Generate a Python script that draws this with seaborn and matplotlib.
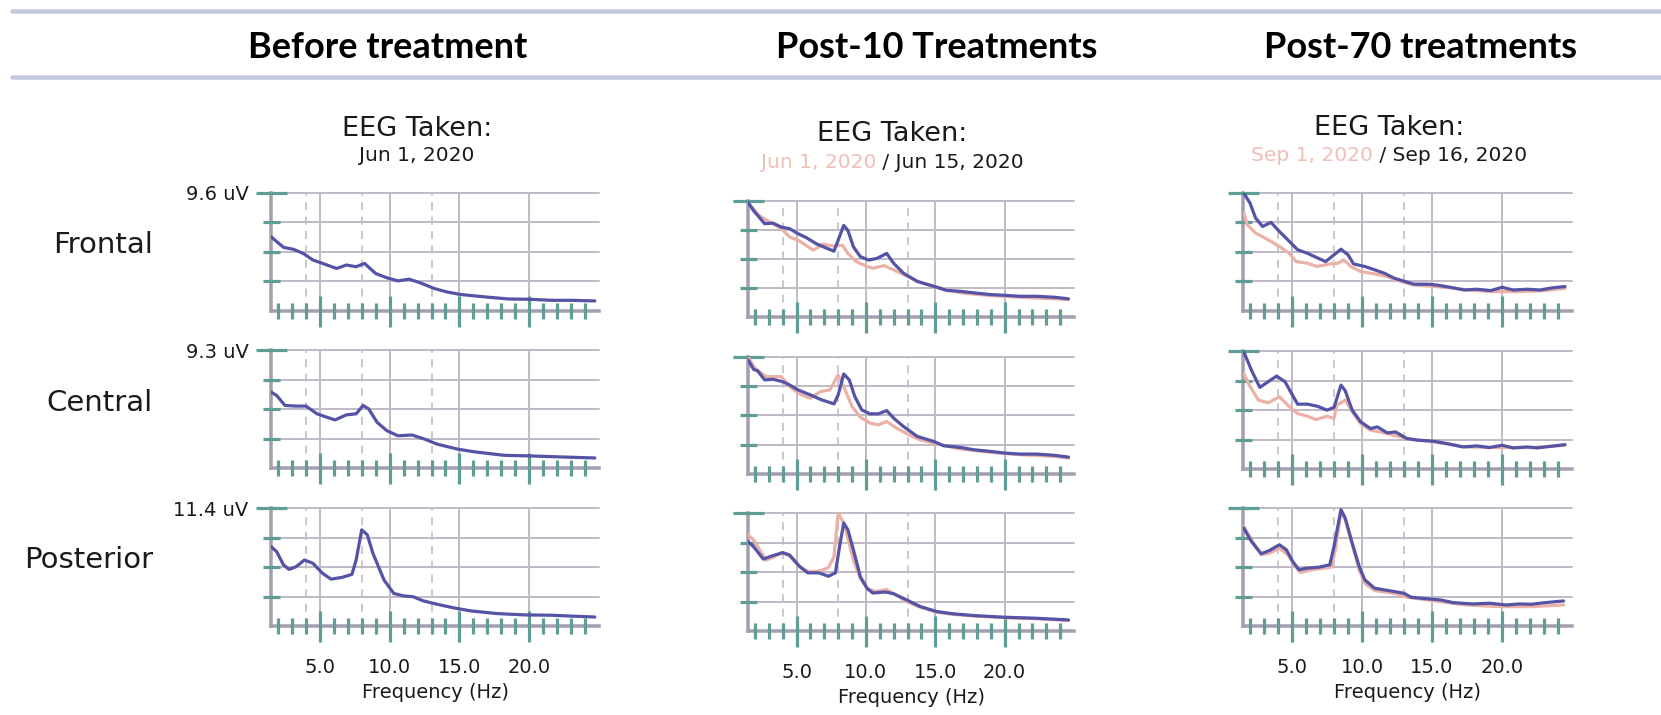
import matplotlib
matplotlib.use("Agg")
import matplotlib.pyplot as plt
import seaborn as sns
from matplotlib.lines import Line2D

# ---------------------------------------------------------------- data
ROWS = ["Frontal", "Central", "Posterior"]
ROW_MAX_UV = [9.6, 9.3, 11.4]
HEADERS = ["Before treatment", "Post-10 Treatments", "Post-70 treatments"]
DATES_PRE = [None, "Jun 1, 2020", "Sep 1, 2020"]
DATES_POST = ["Jun 1, 2020", "Jun 15, 2020", "Sep 16, 2020"]
MAJOR_HZ = [5, 10, 15, 20]
BAND_EDGES_HZ = [4, 8, 13]

# Before treatment (single recording)
before_frontal_hz = [1.5, 1.9, 2.4, 3.1, 3.8, 4.5, 5.2, 6.2, 6.9, 7.6, 8.2, 9.0, 9.8, 10.6, 11.4, 12.2, 13.2, 14.1, 15.1, 16.8, 18.5, 20.1, 21.6, 23.0, 24.7]
before_frontal_uv = [6.05, 5.65, 5.18, 5.02, 4.69, 4.15, 3.87, 3.46, 3.74, 3.6, 3.87, 3.05, 2.7, 2.45, 2.59, 2.29, 1.83, 1.55, 1.34, 1.15, 0.98, 0.95, 0.87, 0.87, 0.82]
before_central_hz = [1.5, 1.9, 2.5, 3.3, 4.0, 4.8, 5.5, 6.1, 6.9, 7.6, 8.1, 8.5, 9.1, 9.8, 10.6, 11.6, 12.5, 13.4, 14.9, 16.1, 18.2, 20.1, 22.3, 24.7]
before_central_uv = [5.99, 5.72, 4.93, 4.88, 4.88, 4.27, 4.0, 3.79, 4.19, 4.27, 4.93, 4.66, 3.6, 2.94, 2.54, 2.6, 2.28, 1.88, 1.48, 1.27, 1.0, 0.95, 0.87, 0.79]
before_posterior_hz = [1.5, 1.9, 2.4, 2.8, 3.3, 3.9, 4.5, 5.2, 5.8, 6.6, 7.3, 7.6, 8.0, 8.4, 8.8, 9.6, 10.3, 11.0, 11.7, 12.4, 13.4, 14.6, 15.8, 17.7, 19.7, 21.6, 23.3, 24.7]
before_posterior_uv = [7.68, 7.19, 5.89, 5.47, 5.73, 6.38, 6.06, 5.08, 4.53, 4.7, 4.99, 6.38, 9.29, 8.81, 7.03, 4.44, 3.14, 2.91, 2.82, 2.43, 2.1, 1.75, 1.46, 1.2, 1.07, 1.04, 0.94, 0.87]

# Post-10 treatments: Jun 1 (pre) vs Jun 15 (post)
p10_frontal_pre_hz = [1.5, 1.9, 2.3, 2.8, 3.3, 3.9, 4.5, 5.2, 6.2, 6.9, 7.7, 8.3, 8.7, 9.3, 10.1, 10.5, 11.3, 12.0, 13.0, 13.9, 14.9, 16.8, 19.0, 21.1, 23.6, 24.6]
p10_frontal_pre_uv = [9.46, 8.92, 8.38, 8.02, 7.7, 7.29, 6.61, 6.28, 5.52, 6.01, 5.85, 5.93, 5.25, 4.57, 4.16, 4.02, 4.24, 3.89, 3.34, 2.86, 2.53, 1.99, 1.77, 1.63, 1.5, 1.44]
p10_frontal_post_hz = [1.5, 1.9, 2.2, 2.7, 3.3, 3.9, 4.5, 5.1, 5.7, 6.4, 7.2, 7.7, 8.0, 8.4, 8.7, 9.1, 9.6, 10.2, 10.8, 11.5, 12.0, 12.7, 13.7, 14.9, 15.8, 16.8, 17.8, 19.0, 20.0, 21.1, 22.3, 23.6, 24.6]
p10_frontal_post_uv = [9.46, 8.78, 8.38, 7.7, 7.75, 7.42, 7.29, 6.88, 6.55, 6.06, 5.66, 5.44, 6.34, 7.56, 7.15, 5.79, 4.98, 4.7, 4.84, 5.25, 4.43, 3.62, 2.94, 2.53, 2.2, 2.12, 1.99, 1.85, 1.79, 1.71, 1.71, 1.63, 1.5]
p10_central_pre_hz = [1.5, 2.0, 2.8, 3.9, 4.5, 5.2, 6.0, 6.7, 7.4, 8.0, 8.5, 9.0, 9.6, 10.3, 10.9, 11.5, 12.2, 13.1, 13.9, 14.9, 16.8, 19.0, 21.1, 23.6, 24.6]
p10_central_pre_uv = [9.3, 8.38, 7.72, 7.72, 6.93, 6.35, 6.01, 6.53, 6.67, 7.85, 6.67, 5.35, 4.5, 4.03, 3.9, 4.16, 3.64, 3.11, 2.71, 2.45, 1.98, 1.71, 1.53, 1.4, 1.26]
p10_central_post_hz = [1.5, 1.9, 2.2, 2.7, 3.3, 4.0, 4.5, 5.1, 6.0, 6.8, 7.7, 8.0, 8.4, 8.8, 9.2, 9.7, 10.3, 10.9, 11.5, 12.0, 12.7, 13.7, 14.9, 15.6, 16.8, 17.8, 19.0, 20.0, 21.1, 22.3, 23.6, 24.6]
p10_central_post_uv = [9.04, 8.3, 8.17, 7.46, 7.51, 7.32, 7.06, 6.67, 6.27, 5.88, 5.56, 6.27, 7.93, 7.46, 6.14, 5.08, 4.77, 4.77, 5.03, 4.43, 3.77, 2.98, 2.58, 2.24, 2.11, 1.92, 1.79, 1.66, 1.58, 1.58, 1.48, 1.34]
p10_posterior_pre_hz = [1.5, 1.9, 2.8, 3.4, 4.0, 4.5, 5.2, 5.9, 6.7, 7.3, 7.7, 8.0, 8.4, 8.7, 9.1, 9.6, 10.1, 10.7, 11.5, 12.2, 13.0, 13.9, 15.1, 16.3, 17.8, 20.0, 22.3, 24.6]
p10_posterior_pre_uv = [9.29, 8.8, 6.85, 7.18, 7.57, 7.24, 6.2, 5.72, 5.81, 6.14, 7.18, 11.4, 10.43, 8.96, 6.85, 5.07, 4.09, 3.83, 4.0, 3.44, 2.79, 2.3, 1.82, 1.6, 1.44, 1.28, 1.18, 1.02]
p10_posterior_post_hz = [1.5, 1.9, 2.6, 3.2, 4.0, 4.5, 5.2, 5.8, 6.6, 7.3, 7.8, 8.1, 8.4, 8.7, 9.1, 9.6, 10.1, 10.5, 11.4, 12.0, 13.0, 13.9, 15.1, 16.3, 17.8, 20.0, 22.3, 24.6]
p10_posterior_post_uv = [8.64, 8.15, 6.95, 7.24, 7.57, 7.34, 6.27, 5.62, 5.62, 5.29, 5.62, 8.15, 10.43, 9.78, 7.83, 5.23, 4.09, 3.67, 3.77, 3.6, 2.96, 2.37, 1.88, 1.66, 1.49, 1.33, 1.23, 1.07]

# Post-70 treatments: Sep 1 (pre) vs Sep 16 (post)
p70_frontal_pre_hz = [1.55, 1.8, 2.4, 3.3, 4.1, 4.8, 5.3, 6.1, 6.8, 7.6, 8.3, 8.7, 9.2, 9.9, 10.9, 11.8, 12.8, 13.7, 15.2, 16.6, 17.6, 19.2, 21.1, 23.0, 24.5]
p70_frontal_pre_uv = [7.97, 7.02, 6.34, 5.79, 5.25, 4.7, 4.02, 3.89, 3.62, 3.81, 3.89, 4.16, 3.62, 3.21, 3.02, 2.8, 2.39, 2.12, 1.99, 1.85, 1.71, 1.58, 1.58, 1.66, 1.85]
p70_frontal_post_hz = [1.55, 2.0, 2.4, 2.9, 3.5, 4.1, 4.7, 5.4, 6.1, 6.7, 7.4, 8.0, 8.5, 9.0, 9.4, 10.2, 10.9, 11.6, 12.3, 13.1, 13.7, 14.7, 15.3, 16.3, 17.3, 18.2, 19.2, 20.0, 20.8, 21.8, 22.7, 23.7, 24.5]
p70_frontal_post_uv = [9.6, 8.78, 7.56, 6.88, 7.21, 6.47, 5.79, 4.98, 4.7, 4.38, 4.02, 4.57, 5.03, 4.57, 3.83, 3.62, 3.35, 3.07, 2.67, 2.39, 2.18, 2.18, 2.12, 1.93, 1.71, 1.77, 1.66, 1.93, 1.71, 1.77, 1.71, 1.9, 1.99]
p70_central_pre_hz = [1.55, 1.95, 2.6, 3.3, 4.1, 4.7, 5.4, 6.1, 6.7, 7.5, 8.0, 8.2, 8.8, 9.3, 9.9, 10.6, 11.3, 12.0, 13.2, 15.1, 17.4, 19.7, 22.1, 24.5]
p70_central_pre_uv = [7.53, 6.61, 5.43, 5.22, 5.69, 5.03, 4.37, 4.16, 3.9, 4.16, 3.98, 5.03, 5.43, 4.51, 3.58, 3.06, 2.92, 2.74, 2.4, 2.13, 1.74, 1.69, 1.69, 1.87]
p70_central_post_hz = [1.55, 2.1, 2.7, 3.3, 3.9, 4.5, 4.9, 5.4, 6.1, 6.8, 7.5, 8.0, 8.5, 8.8, 9.3, 9.9, 10.6, 11.1, 11.8, 12.4, 13.2, 14.0, 15.1, 16.1, 17.2, 18.2, 19.1, 20.0, 20.8, 21.8, 22.5, 23.5, 24.5]
p70_central_post_uv = [9.25, 7.8, 6.43, 6.88, 7.32, 6.88, 6.09, 5.11, 5.11, 4.95, 4.64, 4.85, 6.61, 6.17, 4.64, 3.72, 3.19, 3.32, 2.85, 2.92, 2.4, 2.27, 2.19, 2.0, 1.74, 1.82, 1.69, 1.87, 1.66, 1.74, 1.66, 1.79, 1.92]
p70_posterior_pre_hz = [1.55, 2.1, 2.8, 3.4, 4.1, 4.7, 5.2, 5.6, 6.4, 7.1, 7.8, 8.1, 8.5, 8.8, 9.3, 9.8, 10.2, 10.9, 12.3, 13.2, 15.1, 17.4, 19.9, 22.1, 24.4]
p70_posterior_pre_uv = [9.62, 8.33, 6.88, 7.04, 7.52, 6.88, 5.81, 5.17, 5.43, 5.55, 5.68, 7.36, 11.08, 10.27, 7.85, 5.43, 4.13, 3.42, 3.16, 2.78, 2.45, 2.03, 1.87, 1.87, 2.03]
p70_posterior_post_hz = [1.55, 2.1, 2.8, 3.4, 4.1, 4.6, 5.05, 5.5, 6.1, 6.9, 7.7, 8.0, 8.5, 8.8, 9.3, 9.8, 10.2, 10.9, 11.6, 12.3, 13.0, 13.5, 14.2, 15.1, 15.6, 16.5, 17.9, 19.1, 20.3, 21.2, 22.1, 23.1, 24.4]
p70_posterior_post_uv = [9.46, 8.17, 6.98, 7.3, 7.85, 7.36, 6.23, 5.43, 5.59, 5.68, 5.91, 7.69, 11.24, 10.43, 8.01, 5.75, 4.46, 3.65, 3.49, 3.33, 3.16, 2.78, 2.68, 2.58, 2.52, 2.26, 2.13, 2.2, 2.03, 2.13, 2.1, 2.26, 2.42]

# (pre series or None, post series) for each column / row
PANELS = [
    [(None, (before_frontal_hz, before_frontal_uv)),
     (None, (before_central_hz, before_central_uv)),
     (None, (before_posterior_hz, before_posterior_uv))],
    [((p10_frontal_pre_hz, p10_frontal_pre_uv), (p10_frontal_post_hz, p10_frontal_post_uv)),
     ((p10_central_pre_hz, p10_central_pre_uv), (p10_central_post_hz, p10_central_post_uv)),
     ((p10_posterior_pre_hz, p10_posterior_pre_uv), (p10_posterior_post_hz, p10_posterior_post_uv))],
    [((p70_frontal_pre_hz, p70_frontal_pre_uv), (p70_frontal_post_hz, p70_frontal_post_uv)),
     ((p70_central_pre_hz, p70_central_pre_uv), (p70_central_post_hz, p70_central_post_uv)),
     ((p70_posterior_pre_hz, p70_posterior_pre_uv), (p70_posterior_post_hz, p70_posterior_post_uv))],
]

# ---------------------------------------------------------------- style
sns.set_theme(style="white")
plt.rcParams["font.family"] = ["DejaVu Sans"]

W, H = 1661, 715
PT = 72 / 100          # points per pixel at 100 dpi
TEAL = "#5f9d95"
GRID = "#c0bbc7"
SPINE = "#a59eae"
BLUE = "#5553a6"
PINK = "#ebb1a7"
PINK_TXT = "#f0bfb7"
TXT = "#1a1a1a"
RULE = "#c1cadc"
XMIN, XMAX = 1.5, 25.0

# panel frames in pixels: (left, right) per column, (top, bottom) per column/row
COL_X = [(271, 599), (748, 1074), (1243, 1572)]
COL_ROW_Y = [
    [(193, 311), (350, 468), (508, 626)],
    [(200.7, 317), (356.7, 474), (513, 631)],
    [(193, 311), (351, 469), (508, 626)],
]
TITLE_CX = [417, 892, 1389]
TITLE_BASE = [136, 141, 135]
DATE_BASE = [161, 168, 161]
HEADER_CX = [388, 937, 1420]

fig = plt.figure(figsize=(W / 100, H / 100), dpi=100)


def axes_px(x0, x1, ytop, ybot):
    return fig.add_axes([x0 / W, 1 - ybot / H, (x1 - x0) / W, (ybot - ytop) / H])


def draw_panel(ax, ymax, pre, post, col, row):
    ax.set_xlim(XMIN, XMAX)
    ax.set_ylim(0, ymax)
    ax.set_facecolor("white")
    for frac in (0.25, 0.5, 0.75, 1.0):
        ax.axhline(ymax * frac, color=GRID, lw=2 * PT, zorder=1, clip_on=False)
    for f in MAJOR_HZ:
        ax.axvline(f, color=GRID, lw=2 * PT, zorder=1)
    for f in BAND_EDGES_HZ:
        ax.axvline(f, color=GRID, lw=1.6 * PT, ls=(0, (5, 4)), zorder=1)

    if pre is not None:
        sns.lineplot(x=pre[0], y=pre[1], ax=ax, color=PINK, lw=3.2 * PT, zorder=3)
    sns.lineplot(x=post[0], y=post[1], ax=ax, color=BLUE, lw=3.2 * PT, zorder=4)
    ax.set_xlabel("")
    ax.set_ylabel("")

    for s in ("top", "right"):
        ax.spines[s].set_visible(False)
    for s in ("left", "bottom"):
        ax.spines[s].set_color(SPINE)
        ax.spines[s].set_linewidth(3.5 * PT)
        ax.spines[s].set_zorder(2)
    ax.set_axisbelow(False)

    ax.set_xticks(MAJOR_HZ)
    ax.set_xticks([h for h in range(2, 25) if h % 5], minor=True)
    ax.set_xticklabels([f"{h:.1f}" for h in MAJOR_HZ])
    ax.tick_params(axis="x", which="major", bottom=True, direction="inout",
                   length=31 * PT, width=3.2 * PT, color=TEAL, pad=12,
                   labelsize=14, labelcolor=TXT, labelbottom=(row == 2))
    ax.tick_params(axis="x", which="minor", bottom=True, direction="inout",
                   length=16 * PT, width=3.2 * PT, color=TEAL)

    ax.set_yticks([ymax * f for f in (0.25, 0.5, 0.75)])
    ax.set_yticklabels([])
    ax.set_yticks([ymax], minor=True)
    ax.set_yticklabels([f"{ymax} uV" if col == 0 else ""], minor=True)
    ax.tick_params(axis="y", which="major", left=True, direction="inout",
                   length=17 * PT, width=3.2 * PT, color=TEAL)
    ax.tick_params(axis="y", which="minor", left=True, direction="inout",
                   length=31 * PT, width=3.2 * PT, color=TEAL, pad=5,
                   labelsize=14, labelcolor=TXT)

    if row == 2:
        ax.set_xlabel("Frequency (Hz)", fontsize=14, color=TXT, labelpad=4)


for col in range(3):
    x0, x1 = COL_X[col]
    for row in range(3):
        ytop, ybot = COL_ROW_Y[col][row]
        ax = axes_px(x0, x1, ytop, ybot)
        pre, post = PANELS[col][row]
        draw_panel(ax, ROW_MAX_UV[row], pre, post, col, row)

# header band
for y in (10.5, 77):
    fig.add_artist(Line2D([12 / W, 1.0], [1 - y / H] * 2, transform=fig.transFigure,
                          color=RULE, lw=4.5 * PT))
for cx, txt in zip(HEADER_CX, HEADERS):
    fig.text(cx / W, 1 - 58 / H, txt, ha="center", va="baseline", fontsize=26,
             fontweight="bold", family=["Lato", "DejaVu Sans"], color="black")

# row names
for name, base in zip(ROWS, [253, 411, 568]):
    fig.text(153 / W, 1 - base / H, name, ha="right", va="baseline", fontsize=21, color=TXT)

# panel titles with recording dates
renderer = fig.canvas.get_renderer()
for col in range(3):
    cx = TITLE_CX[col]
    fig.text(cx / W, 1 - TITLE_BASE[col] / H, "EEG Taken:", ha="center", va="baseline",
             fontsize=19.5, color=TXT)
    yb = 1 - DATE_BASE[col] / H
    if DATES_PRE[col] is None:
        fig.text(cx / W, yb, DATES_POST[col], ha="center", va="baseline", fontsize=14.5, color=TXT)
    else:
        t1 = fig.text(0, yb, DATES_PRE[col], ha="left", va="baseline", fontsize=14.5, color=PINK_TXT)
        t2 = fig.text(0, yb, " / " + DATES_POST[col], ha="left", va="baseline", fontsize=14.5, color=TXT)
        w1 = t1.get_window_extent(renderer).width
        w2 = t2.get_window_extent(renderer).width
        left = cx - (w1 + w2) / 2
        t1.set_x(left / W)
        t2.set_x((left + w1) / W)

fig.savefig("out.png", dpi=100, facecolor="white")
